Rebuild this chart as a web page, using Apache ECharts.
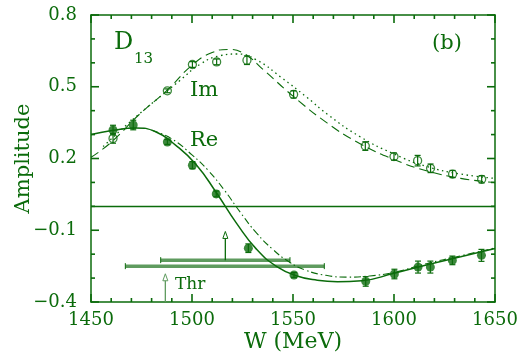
<!DOCTYPE html>
<html>
<head>
<meta charset="utf-8">
<script src="https://cdn.jsdelivr.net/npm/echarts@6/dist/echarts.min.js"></script>
<style>
  html, body { margin: 0; padding: 0; background: #fff; }
  #chart { width: 519px; height: 357px; }
</style>
</head>
<body>
<div id="chart"></div>
<script>
var green = '#0b6b0b';
var lightGreen = '#5f9b5f';
var font = 'DejaVu Serif';

// data points, Re (filled) and Im (open)
var reW   = [1460.9, 1470.9, 1487.8, 1500.2, 1512.0, 1527.9, 1550.5, 1586.0, 1600.2, 1611.9, 1618.0, 1628.9, 1643.3];
var reAmp = [0.319, 0.340, 0.269, 0.172, 0.052, -0.175, -0.287, -0.314, -0.283, -0.254, -0.254, -0.226, -0.205];
var reErr = [0.020, 0.020, 0.010, 0.015, 0.012, 0.018, 0.010, 0.020, 0.020, 0.025, 0.025, 0.018, 0.025];

var imW   = [1460.9, 1487.8, 1500.2, 1512.2, 1527.2, 1550.3, 1585.8, 1600.0, 1611.7, 1618.1, 1629.0, 1643.4];
var imAmp = [0.284, 0.483, 0.593, 0.604, 0.611, 0.468, 0.252, 0.208, 0.191, 0.159, 0.135, 0.113];
var imErr = [0.020, 0.008, 0.012, 0.012, 0.018, 0.015, 0.018, 0.015, 0.022, 0.018, 0.015, 0.015];

// fit curves
var reFitW   = [1450, 1461, 1472, 1482, 1492, 1502, 1512, 1522, 1532, 1542, 1552, 1562, 1572, 1584, 1600, 1616, 1633, 1650];
var reFitAmp = [0.300, 0.318, 0.328, 0.312, 0.255, 0.175, 0.058, -0.070, -0.180, -0.252, -0.291, -0.309, -0.315, -0.311, -0.280, -0.245, -0.211, -0.176];

var reAltW   = [1480, 1490, 1500, 1508, 1516, 1524, 1532, 1540, 1548, 1556, 1566, 1577, 1588, 1600, 1616, 1633, 1650];
var reAltAmp = [0.318, 0.282, 0.215, 0.150, 0.068, -0.026, -0.112, -0.180, -0.232, -0.266, -0.288, -0.296, -0.291, -0.276, -0.240, -0.207, -0.174];

var imFitW   = [1450, 1460, 1474, 1488, 1500, 1510, 1518, 1526, 1536, 1550, 1567, 1583, 1600, 1616, 1633, 1650];
var imFitAmp = [0.205, 0.268, 0.385, 0.488, 0.590, 0.643, 0.656, 0.637, 0.566, 0.461, 0.348, 0.263, 0.196, 0.149, 0.117, 0.099];

var imAltW   = [1456, 1470, 1483, 1494, 1504, 1514, 1522, 1532, 1544, 1557, 1567, 1583, 1600, 1616, 1633, 1650];
var imAltAmp = [0.250, 0.358, 0.450, 0.526, 0.594, 0.630, 0.637, 0.612, 0.540, 0.455, 0.385, 0.292, 0.219, 0.167, 0.135, 0.117];

// threshold bars and arrows
var barLo  = [1484.5, 1467.0];
var barHi  = [1548.5, 1565.5];
var barAmp = [-0.225, -0.250];

var arrowW    = [1516.5, 1486.8];
var arrowFrom = [-0.225, -0.400];
var arrowTo   = [-0.105, -0.282];
var arrowCol  = [green, lightGreen];

// frame tick marks (major ones carry labels)
var xTicks = [1450, 1460, 1470, 1480, 1490, 1500, 1510, 1520, 1530, 1540, 1550,
              1560, 1570, 1580, 1590, 1600, 1610, 1620, 1630, 1640, 1650];
var xMajor = [1450, 1500, 1550, 1600, 1650];
var yTicks = [-0.4, -0.3, -0.2, -0.1, 0.0, 0.1, 0.2, 0.3, 0.4, 0.5, 0.6, 0.7, 0.8];
var yMajor = [-0.4, -0.1, 0.2, 0.5, 0.8];

var X_MIN = 1450, X_MAX = 1650, Y_MIN = -0.4, Y_MAX = 0.8;

function pairs(xs, ys) {
  return xs.map(function (x, i) { return [x, ys[i]]; });
}
function errData(xs, ys, es) {
  return xs.map(function (x, i) { return [x, ys[i] - es[i], ys[i] + es[i]]; });
}

function renderErr(params, api) {
  var lo = api.coord([api.value(0), api.value(1)]);
  var hi = api.coord([api.value(0), api.value(2)]);
  var st = { stroke: green, lineWidth: 1.2 };
  return {
    type: 'group',
    children: [
      { type: 'line', shape: { x1: lo[0], y1: lo[1], x2: hi[0], y2: hi[1] }, style: st },
      { type: 'line', shape: { x1: lo[0] - 3, y1: lo[1], x2: lo[0] + 3, y2: lo[1] }, style: st },
      { type: 'line', shape: { x1: hi[0] - 3, y1: hi[1], x2: hi[0] + 3, y2: hi[1] }, style: st }
    ]
  };
}

function renderBar(params, api) {
  var a = api.coord([api.value(0), api.value(2)]);
  var b = api.coord([api.value(1), api.value(2)]);
  return {
    type: 'group',
    children: [
      { type: 'line', shape: { x1: a[0], y1: a[1], x2: b[0], y2: b[1] }, style: { stroke: lightGreen, lineWidth: 3.5 } },
      { type: 'line', shape: { x1: a[0], y1: a[1] - 3, x2: a[0], y2: a[1] + 3 }, style: { stroke: green, lineWidth: 1 } },
      { type: 'line', shape: { x1: b[0], y1: b[1] - 3, x2: b[0], y2: b[1] + 3 }, style: { stroke: green, lineWidth: 1 } }
    ]
  };
}

function renderArrow(params, api) {
  var p1 = api.coord([api.value(0), api.value(1)]);
  var p2 = api.coord([api.value(0), api.value(2)]);
  var c = arrowCol[params.dataIndex];
  return {
    type: 'group',
    children: [
      { type: 'line', shape: { x1: p1[0], y1: p1[1], x2: p2[0], y2: p2[1] + 2 }, style: { stroke: c, lineWidth: 1.3 } },
      { type: 'polygon', shape: { points: [[p2[0], p2[1]], [p2[0] - 2.5, p2[1] + 7], [p2[0] + 2.5, p2[1] + 7]] },
        style: { fill: '#fff', stroke: c, lineWidth: 1 } }
    ]
  };
}

// inward ticks on all four sides of the frame
function renderXTick(params, api) {
  var v = api.value(0);
  var len = xMajor.indexOf(v) >= 0 ? 8 : 4;
  var b = api.coord([v, Y_MIN]);
  var t = api.coord([v, Y_MAX]);
  var st = { stroke: green, lineWidth: 1.6 };
  return {
    type: 'group',
    children: [
      { type: 'line', shape: { x1: b[0], y1: b[1], x2: b[0], y2: b[1] - len }, style: st },
      { type: 'line', shape: { x1: t[0], y1: t[1], x2: t[0], y2: t[1] + len }, style: st }
    ]
  };
}
function renderYTick(params, api) {
  var v = api.value(1);
  var len = yMajor.indexOf(v) >= 0 ? 8 : 4;
  var l = api.coord([X_MIN, v]);
  var r = api.coord([X_MAX, v]);
  var st = { stroke: green, lineWidth: 1.6 };
  return {
    type: 'group',
    children: [
      { type: 'line', shape: { x1: l[0], y1: l[1], x2: l[0] + len, y2: l[1] }, style: st },
      { type: 'line', shape: { x1: r[0], y1: r[1], x2: r[0] - len, y2: r[1] }, style: st }
    ]
  };
}

var axisLineStyle = { color: green, width: 1.5 };

var myChart = echarts.init(document.getElementById('chart'));

var option = {
  animation: false,
  grid: { left: 91, right: 24, top: 15, bottom: 55, outerBoundsMode: 'none' },
  xAxis: [
    { type: 'value', min: X_MIN, max: X_MAX, interval: 50, position: 'bottom',
      axisLine: { show: true, onZero: false, lineStyle: axisLineStyle },
      axisTick: { show: false },
      splitLine: { show: false },
      name: 'W (MeV)', nameLocation: 'middle', nameGap: 29, nameMoveOverlap: false,
      nameTextStyle: { fontFamily: font, fontSize: 22, color: green },
      axisLabel: { fontFamily: font, fontSize: 18, color: green, margin: 9,
        formatter: function (v) { return String(v); } } },
    { type: 'value', min: X_MIN, max: X_MAX, interval: 50, position: 'top',
      axisLine: { show: true, onZero: false, lineStyle: axisLineStyle },
      axisTick: { show: false },
      axisLabel: { show: false },
      splitLine: { show: false } }
  ],
  yAxis: [
    { type: 'value', min: Y_MIN, max: Y_MAX, interval: 0.3, position: 'left',
      axisLine: { show: true, onZero: false, lineStyle: axisLineStyle },
      axisTick: { show: false },
      splitLine: { show: false },
      name: 'Amplitude', nameLocation: 'middle', nameGap: 57, nameMoveOverlap: false,
      nameTextStyle: { fontFamily: font, fontSize: 21, color: green },
      axisLabel: { fontFamily: font, fontSize: 18, color: green, margin: 14,
        formatter: function (v) { return v.toFixed(1).replace('-', '\u2212'); } } },
    { type: 'value', min: Y_MIN, max: Y_MAX, interval: 0.3, position: 'right',
      axisLine: { show: true, onZero: false, lineStyle: axisLineStyle },
      axisTick: { show: false },
      axisLabel: { show: false },
      splitLine: { show: false } }
  ],
  graphic: [
    { type: 'text', left: 114, top: 31, style: { text: 'D', font: '24px "DejaVu Serif"', fill: green } },
    { type: 'text', left: 134, top: 52, style: { text: '13', font: '15px "DejaVu Serif"', fill: green } },
    { type: 'text', left: 190, top: 80, style: { text: 'Im', font: '21px "DejaVu Serif"', fill: green } },
    { type: 'text', left: 190, top: 130, style: { text: 'Re', font: '21px "DejaVu Serif"', fill: green } },
    { type: 'text', left: 432, top: 33, style: { text: '(b)', font: '21px "DejaVu Serif"', fill: green } },
    { type: 'text', left: 175, top: 276, style: { text: 'Thr', font: '17px "DejaVu Serif"', fill: green } }
  ],
  series: [
    {
      type: 'line', data: pairs(reFitW, reFitAmp), smooth: 0.5, symbol: 'none',
      lineStyle: { color: green, width: 1.5 },
      markLine: {
        silent: true, symbol: 'none', label: { show: false },
        lineStyle: { color: green, width: 1.3, type: 'solid' },
        data: [{ yAxis: 0 }]
      }
    },
    {
      type: 'line', data: pairs(reAltW, reAltAmp), smooth: 0.5, symbol: 'none',
      lineStyle: { color: green, width: 1.1, type: [7, 3, 1.5, 3] }
    },
    {
      type: 'line', data: pairs(imFitW, imFitAmp), smooth: 0.5, symbol: 'none',
      lineStyle: { color: green, width: 1.1, type: [9, 5] }
    },
    {
      type: 'line', data: pairs(imAltW, imAltAmp), smooth: 0.5, symbol: 'none',
      lineStyle: { color: green, width: 1.3, type: [1.5, 3.5] }
    },
    {
      type: 'custom', renderItem: renderXTick, silent: true, clip: false, z: 5,
      data: xTicks.map(function (v) { return [v, Y_MIN]; })
    },
    {
      type: 'custom', renderItem: renderYTick, silent: true, clip: false, z: 5,
      data: yTicks.map(function (v) { return [X_MIN, v]; })
    },
    {
      type: 'custom', renderItem: renderBar, silent: true,
      data: barLo.map(function (lo, i) { return [lo, barHi[i], barAmp[i]]; })
    },
    {
      type: 'custom', renderItem: renderArrow, silent: true,
      data: arrowW.map(function (w, i) { return [w, arrowFrom[i], arrowTo[i]]; })
    },
    { type: 'custom', renderItem: renderErr, data: errData(reW, reAmp, reErr), z: 3 },
    { type: 'custom', renderItem: renderErr, data: errData(imW, imAmp, imErr), z: 3 },
    {
      type: 'scatter', data: pairs(reW, reAmp), symbol: 'circle', symbolSize: 9, z: 4,
      itemStyle: { color: green }
    },
    {
      type: 'scatter', data: pairs(imW, imAmp), symbol: 'circle', symbolSize: 8, z: 4,
      itemStyle: { color: 'rgba(255,255,255,0)', borderColor: green, borderWidth: 1.3 }
    }
  ]
};

myChart.setOption(option);
</script>
</body>
</html>
